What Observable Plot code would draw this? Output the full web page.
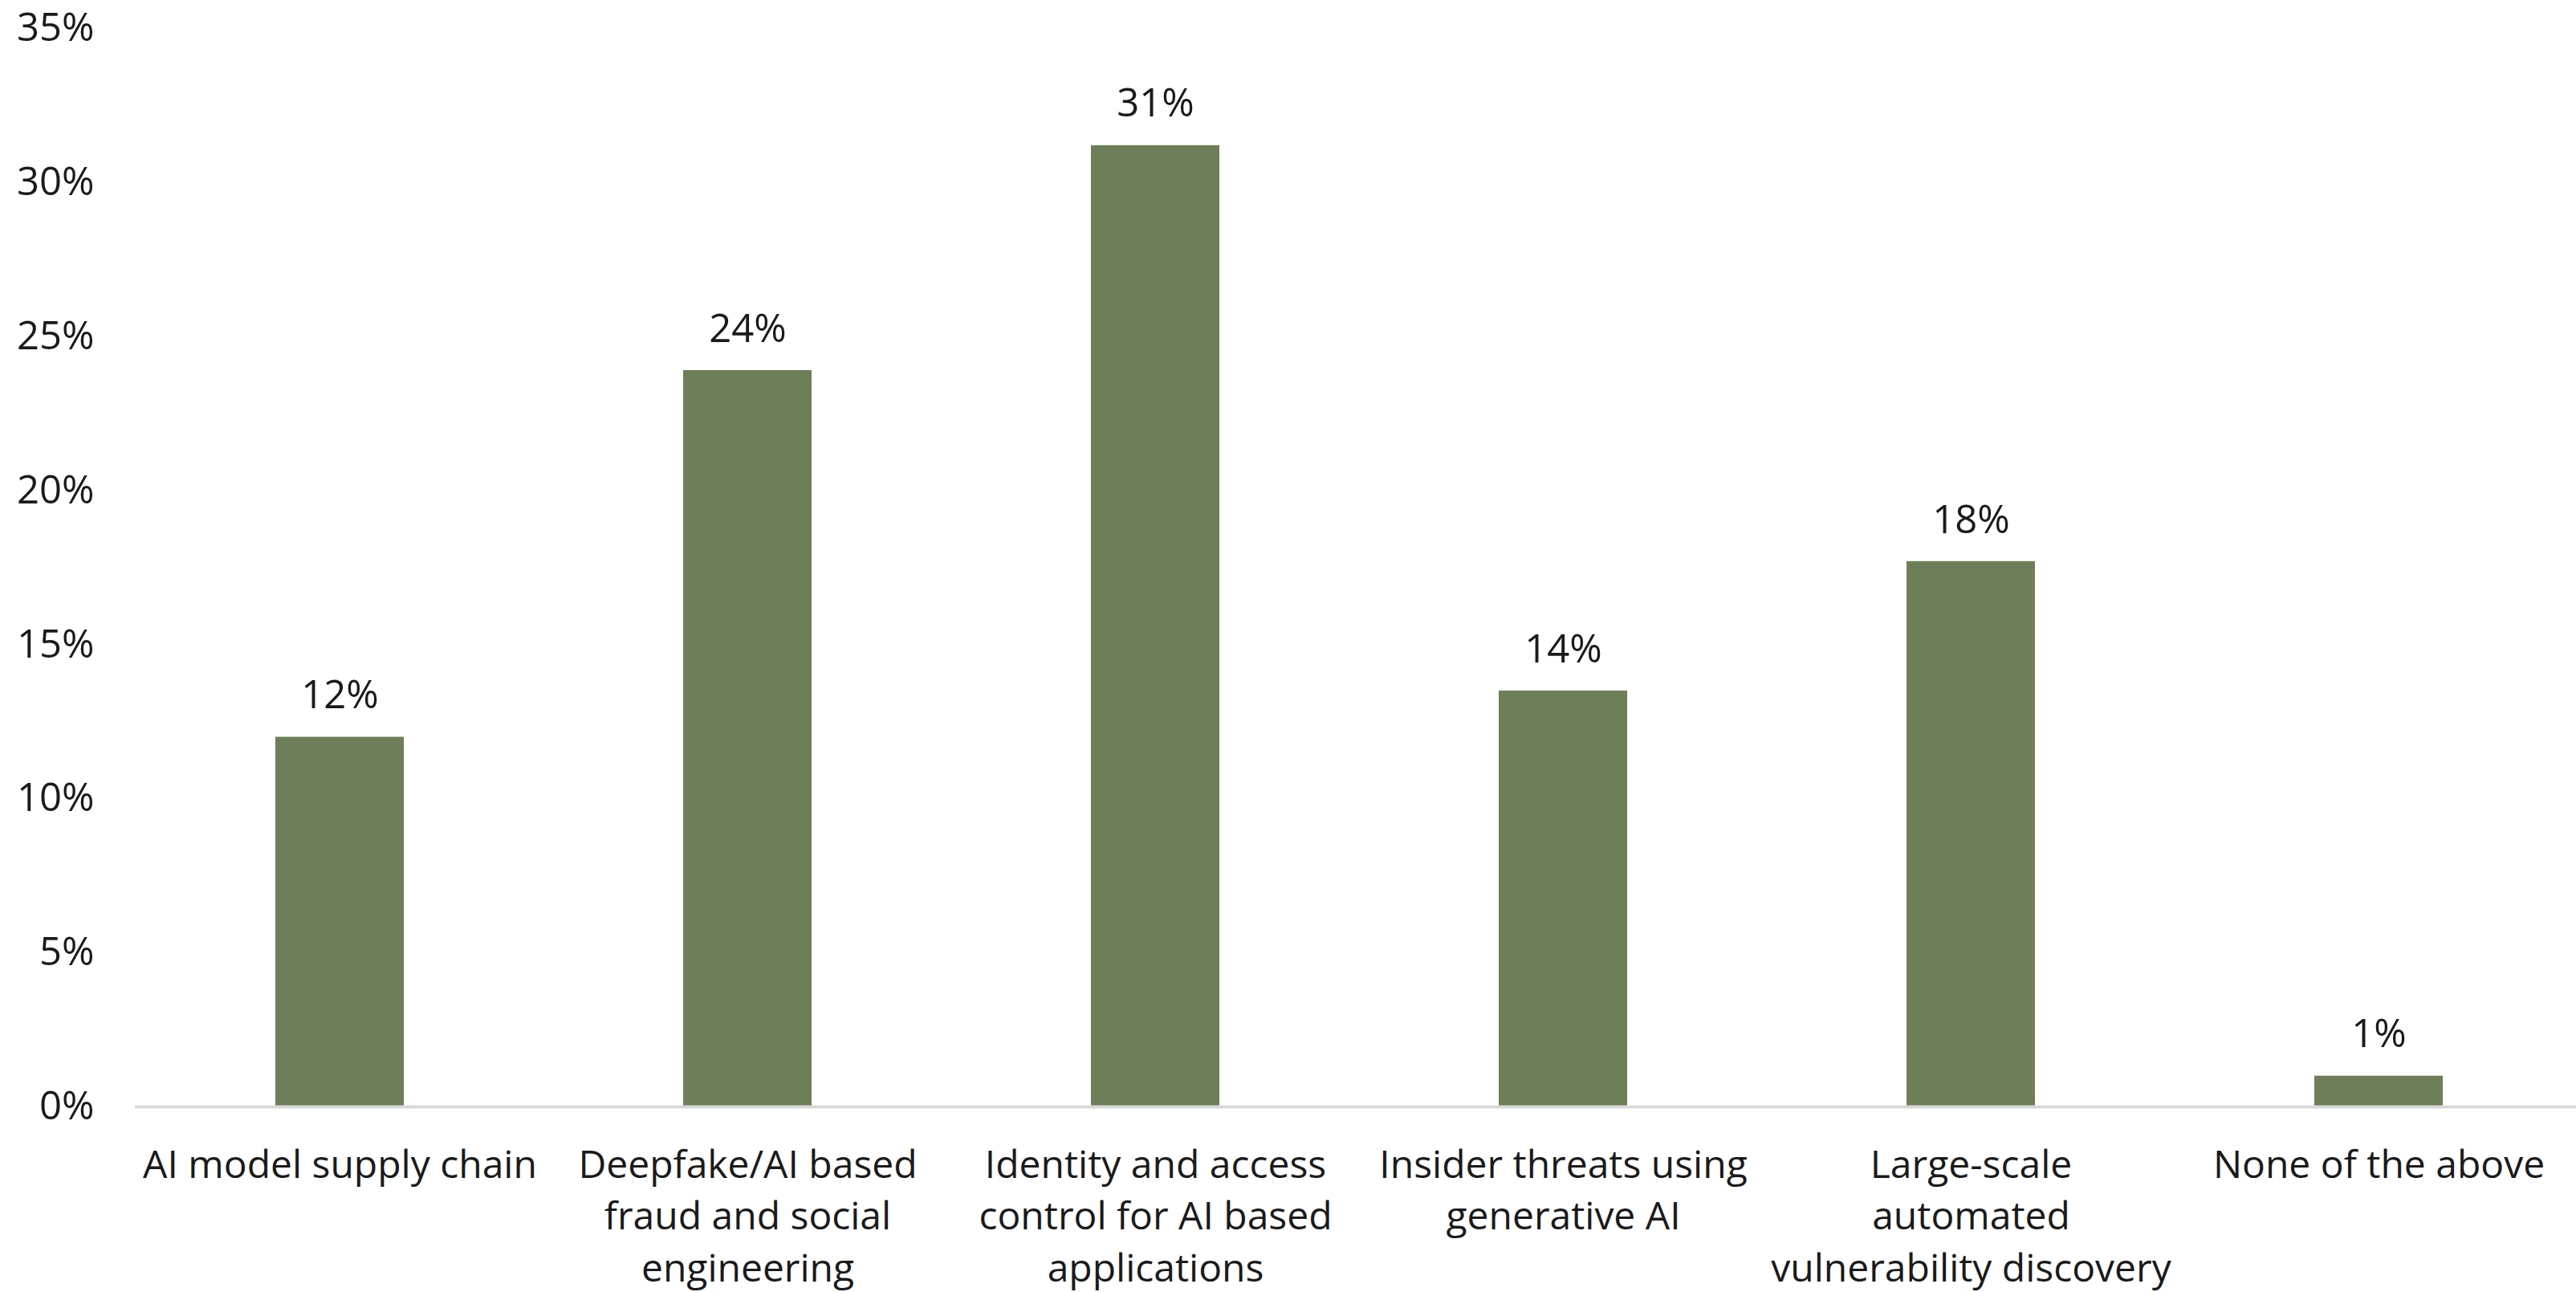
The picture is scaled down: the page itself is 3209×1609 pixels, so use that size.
<!DOCTYPE html>
<html>
<head>
<meta charset="utf-8">
<script src="https://cdn.jsdelivr.net/npm/d3@7"></script>
<script src="https://cdn.jsdelivr.net/npm/@observablehq/plot@0.6"></script>
<style>
  html, body { margin: 0; padding: 0; background: #ffffff; }
  #chart svg { display: block; }
</style>
</head>
<body>
<div id="chart"></div>
<script>
const categories = [
  "AI model supply chain",
  "Deepfake/AI based fraud and social engineering",
  "Identity and access control for AI based applications",
  "Insider threats using generative AI",
  "Large-scale automated vulnerability discovery",
  "None of the above"
];
const categoryLines = [
  "AI model supply chain",
  "Deepfake/AI based\nfraud and social\nengineering",
  "Identity and access\ncontrol for AI based\napplications",
  "Insider threats using\ngenerative AI",
  "Large-scale\nautomated\nvulnerability discovery",
  "None of the above"
];
const values = [12.0, 23.9, 31.2, 13.5, 17.7, 1.0];
const yTicks = [0, 5, 10, 15, 20, 25, 30, 35];

const data = categories.map((c, i) => ({category: c, value: values[i]}));

const chart = Plot.plot({
  width: 3209,
  height: 1609,
  marginLeft: 168,
  marginRight: 0,
  marginTop: 35,
  marginBottom: 231,
  insetRight: -10,
  style: {
    fontFamily: "'Open Sans', sans-serif",
    fontSize: "49px",
    color: "#1a1a1a",
    background: "#ffffff"
  },
  x: {
    domain: categories,
    paddingInner: 0.685,
    paddingOuter: 0.3425,
    label: null
  },
  y: {
    domain: [0, 35],
    label: null
  },
  marks: [
    Plot.axisY({
      ticks: yTicks,
      tickFormat: d => d + "%",
      tickSize: 0,
      tickPadding: 51,
      label: null,
      fontSize: 49
    }),
    Plot.axisX({
      tickSize: 0,
      tickPadding: 42,
      tickFormat: d => categoryLines[categories.indexOf(d)],
      lineHeight: 1.35,
      label: null,
      fontSize: 48
    }),
    Plot.barY(data, {x: "category", y: "value", fill: "#6e7e59"}),
    Plot.ruleY([0], {stroke: "#d9d9d9", strokeWidth: 4}),
    Plot.text(data, {
      x: "category",
      y: "value",
      text: d => Math.round(d.value) + "%",
      dy: -51.5,
      lineAnchor: "middle",
      fontSize: 49,
      fill: "#1a1a1a"
    })
  ]
});

document.getElementById("chart").appendChild(chart);
</script>
</body>
</html>
